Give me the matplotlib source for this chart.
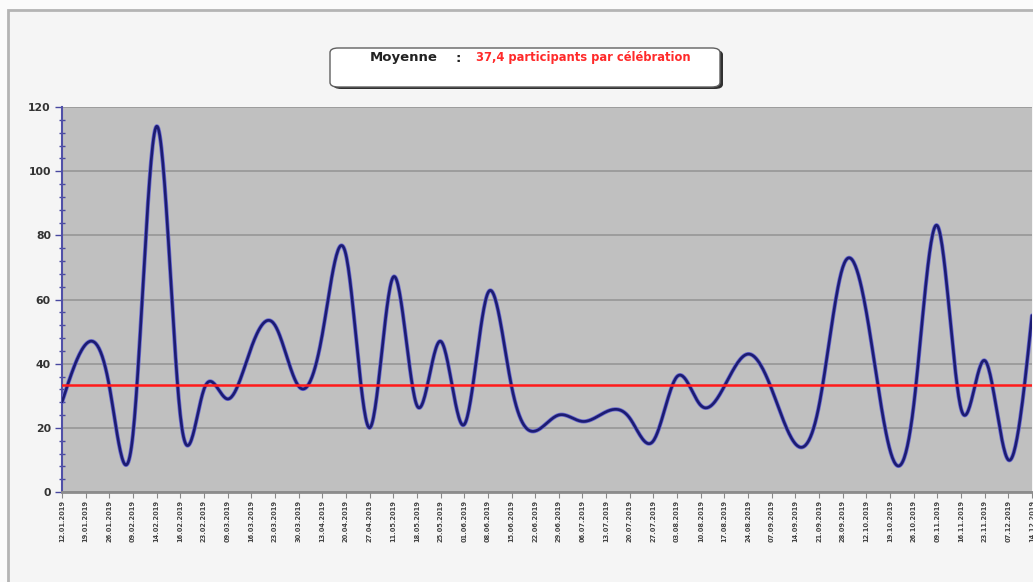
import numpy as np
import matplotlib
matplotlib.use("Agg")
import matplotlib.pyplot as plt
from matplotlib.patches import Rectangle, FancyBboxPatch

# dates des célébrations (axe des x)
dates = ["12.01.2019", "19.01.2019", "26.01.2019", "09.02.2019", "14.02.2019",
         "16.02.2019", "23.02.2019", "09.03.2019", "16.03.2019", "23.03.2019",
         "30.03.2019", "13.04.2019", "20.04.2019", "27.04.2019", "11.05.2019",
         "18.05.2019", "25.05.2019", "01.06.2019", "08.06.2019", "15.06.2019",
         "22.06.2019", "29.06.2019", "06.07.2019", "13.07.2019", "20.07.2019",
         "27.07.2019", "03.08.2019", "10.08.2019", "17.08.2019", "24.08.2019",
         "07.09.2019", "14.09.2019", "21.09.2019", "28.09.2019", "12.10.2019",
         "19.10.2019", "26.10.2019", "09.11.2019", "16.11.2019", "23.11.2019",
         "07.12.2019", "14.12.2019"]

# nombre de participants
participants = [28, 46, 33, 18, 114, 24, 32, 29, 45, 52,
                33, 49, 74, 20, 67, 27, 47, 21, 62, 33,
                19, 24, 22, 25, 23, 16, 36, 27, 33, 43,
                32, 15, 27, 70, 56, 13, 27, 83, 26, 41,
                10, 55]

ligne_rouge = 33.3
titre_gauche = "Moyenne"
titre_droite = "37,4 participants par célébration"


def spline_naturelle(x, y, pas=30):
    # spline cubique naturelle, comme le lissage du tableur
    x = np.asarray(x, float)
    y = np.asarray(y, float)
    n = len(x)
    h = np.diff(x)
    A = np.zeros((n, n))
    b = np.zeros(n)
    A[0, 0] = 1
    A[-1, -1] = 1
    for i in range(1, n - 1):
        A[i, i - 1] = h[i - 1]
        A[i, i] = 2 * (h[i - 1] + h[i])
        A[i, i + 1] = h[i]
        b[i] = 6 * ((y[i + 1] - y[i]) / h[i] - (y[i] - y[i - 1]) / h[i - 1])
    M = np.linalg.solve(A, b)
    xs, ys = [], []
    for i in range(n - 1):
        t = np.linspace(x[i], x[i + 1], pas, endpoint=False)
        a = (x[i + 1] - t) / h[i]
        c = (t - x[i]) / h[i]
        s = (a * y[i] + c * y[i + 1]
             + ((a ** 3 - a) * M[i] + (c ** 3 - c) * M[i + 1]) * h[i] ** 2 / 6)
        xs.append(t)
        ys.append(s)
    xs.append([x[-1]])
    ys.append([y[-1]])
    return np.concatenate(xs), np.concatenate(ys)


W, H = 1033, 582
fig = plt.figure(figsize=(W / 100, H / 100), dpi=100)
fig.patch.set_facecolor("#fbfbfb")

# cadre extérieur gris
fig.patches.append(Rectangle((8 / W, -0.1), 1.2, (H - 10) / H + 0.1,
                             transform=fig.transFigure, facecolor="#f5f5f5",
                             edgecolor="#b4b4b4", lw=2, zorder=-5))

ax = fig.add_axes([62 / W, (H - 492) / H, (1032 - 62) / W, (492 - 107) / H])
ax.set_facecolor("#c0c0c0")

x = np.arange(len(participants))
xs, ys = spline_naturelle(x, participants)
ax.plot(xs, ys, color="#6a6ad0", lw=3.0, solid_capstyle="round", zorder=3)
ax.plot(xs, ys, color="#1c1c72", lw=1.9, solid_capstyle="round", zorder=4)
ax.axhline(ligne_rouge, color="#ff1a1a", lw=1.8, zorder=5)

ax.set_xlim(0, len(participants) - 1)
ax.set_ylim(0, 120)
ax.set_yticks(np.arange(0, 121, 20))
ax.set_yticks(np.arange(0, 121, 4), minor=True)
ax.yaxis.grid(True, color="#9a9a9a", lw=1.3)
ax.set_axisbelow(True)

ax.set_xticks(x)
ax.set_xticklabels(dates, rotation=90, fontsize=4.8, fontweight="bold",
                   color="#444444")
ax.tick_params(axis="x", length=4, width=0.8, color="#888888", pad=2)
ax.tick_params(axis="y", which="major", length=5, width=1, color="#4848a0",
               labelsize=7.8, labelcolor="#333333", pad=3)
ax.tick_params(axis="y", which="minor", length=4, width=1, color="#4848a0",
               direction="inout")
for lab in ax.get_yticklabels():
    lab.set_fontweight("bold")

ax.spines["left"].set_color("#5050a8")
ax.spines["left"].set_linewidth(1.5)
ax.spines["bottom"].set_color("#8c8c8c")
ax.spines["bottom"].set_linewidth(2)
ax.spines["top"].set_visible(False)
ax.spines["right"].set_visible(False)

# encadré du titre avec ombre
ombre = FancyBboxPatch((333 / W, (H - 89) / H), (722 - 332) / W, 39 / H,
                       boxstyle="round,pad=0,rounding_size=0.008",
                       transform=fig.transFigure, facecolor="#303030",
                       edgecolor="none", zorder=1)
boite = FancyBboxPatch((330 / W, (H - 87) / H), (720 - 330) / W, 39 / H,
                       boxstyle="round,pad=0,rounding_size=0.008",
                       transform=fig.transFigure, facecolor="white",
                       edgecolor="#606060", lw=1, zorder=2)
fig.patches.append(ombre)
fig.patches.append(boite)
fig.text(370 / W, (H - 58) / H, titre_gauche, fontsize=9.5, fontweight="bold",
         color="#222222", va="center", ha="left", zorder=3)
fig.text(458 / W, (H - 58) / H, ":", fontsize=9.5, fontweight="bold",
         color="#222222", va="center", ha="center", zorder=3)
fig.text(476 / W, (H - 58) / H, titre_droite, fontsize=8.3, fontweight="bold",
         color="#ff2a2a", va="center", ha="left", zorder=3)

fig.savefig("out.png", dpi=100, facecolor=fig.get_facecolor())
